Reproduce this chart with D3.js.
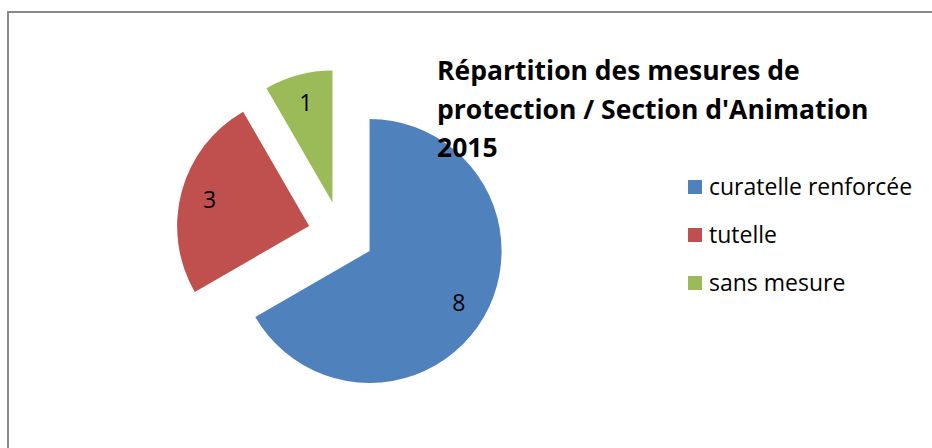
<!DOCTYPE html>
<html>
<head>
<meta charset="utf-8">
<script src="https://cdn.jsdelivr.net/npm/d3@7"></script>
<style>
  body { margin: 0; background: #fff; }
  svg { display: block; font-family: "Open Sans", Lato, sans-serif; }
</style>
</head>
<body>
<div id="chart"></div>
<script>
// data
const categories = ["curatelle renforcée", "tutelle", "sans mesure"];
const values = [8, 3, 1];
const colors = ["#4f81bd", "#c0504d", "#9bbb59"];
const titleLines = ["Répartition des mesures de", "protection / Section d'Animation", "2015"];

const width = 932, height = 448;
const cx = 341, cy = 234.5, radius = 132, explode = 33;

const svg = d3.select("#chart")
  .append("svg")
  .attr("width", width)
  .attr("height", height);

// chart frame (right/bottom edges fall outside the picture)
svg.append("rect")
  .attr("x", 8)
  .attr("y", 12)
  .attr("width", 940)
  .attr("height", 460)
  .attr("fill", "#fff")
  .attr("stroke", "#888")
  .attr("stroke-width", 2);

const color = d3.scaleOrdinal().domain(categories).range(colors);

const pie = d3.pie().sort(null).value(d => d.value);
const arcs = pie(categories.map((c, i) => ({ name: c, value: values[i] })));

const arc = d3.arc().innerRadius(0).outerRadius(radius);

function offset(d, dist) {
  const a = (d.startAngle + d.endAngle) / 2;
  return [Math.sin(a) * dist, -Math.cos(a) * dist];
}

const g = svg.append("g").attr("transform", "translate(" + cx + "," + cy + ")");

const slices = g.selectAll("g.slice")
  .data(arcs)
  .enter()
  .append("g")
  .attr("class", "slice")
  .attr("transform", d => "translate(" + offset(d, explode) + ")");

slices.append("path")
  .attr("d", arc)
  .attr("fill", d => color(d.data.name));

slices.append("text")
  .attr("transform", d => "translate(" + offset(d, radius * 0.78) + ")")
  .attr("text-anchor", "middle")
  .attr("dy", "0.36em")
  .style("font-size", "23px")
  .style("fill", "#000")
  .text(d => d.data.value);

// title
svg.append("text")
  .attr("x", 437)
  .attr("y", 80)
  .style("font-size", "26.5px")
  .style("font-weight", "bold")
  .style("fill", "#000")
  .selectAll("tspan")
  .data(titleLines)
  .enter()
  .append("tspan")
  .attr("x", 437)
  .attr("dy", (d, i) => i === 0 ? 0 : 38.5)
  .text(d => d);

// legend
const legend = svg.append("g").attr("transform", "translate(688,180)");
const items = legend.selectAll("g")
  .data(categories)
  .enter()
  .append("g")
  .attr("transform", (d, i) => "translate(0," + i * 48 + ")");

items.append("rect")
  .attr("width", 14)
  .attr("height", 14)
  .attr("fill", d => color(d));

items.append("text")
  .attr("x", 21)
  .attr("y", 14.5)
  .style("font-size", "23px")
  .style("fill", "#000")
  .text(d => d);
</script>
</body>
</html>
